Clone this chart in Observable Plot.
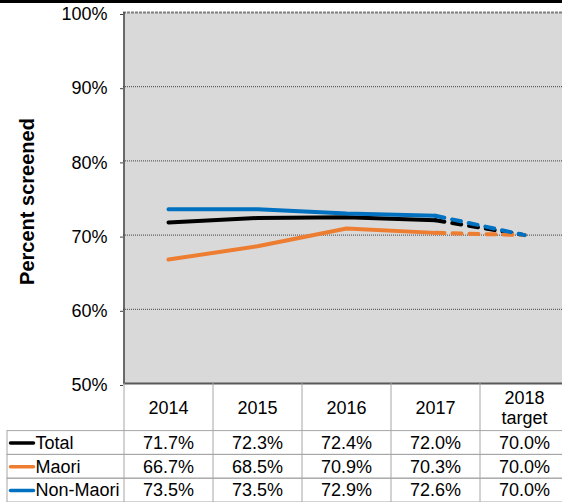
<!DOCTYPE html>
<html><head><meta charset="utf-8">
<script src="https://cdn.jsdelivr.net/npm/d3@7"></script>
<script src="https://cdn.jsdelivr.net/npm/@observablehq/plot@0.6"></script>
<style>
html,body{margin:0;padding:0;background:#fff;overflow:hidden;width:562px;height:502px;}
#wrap{position:relative;width:562px;height:502px;overflow:hidden;}
#topline{position:absolute;left:0;top:0;width:562px;height:3px;background:#000;z-index:2}
#chart{position:absolute;left:0;top:0;width:568px}
#table{position:absolute;left:0;top:383px;width:568px}
</style></head><body>
<div id="wrap"><div id="topline"></div><div id="chart"></div><div id="table"></div></div>
<script>
const categories = ["2014", "2015", "2016", "2017", "2018\ntarget"];
const seriesNames = ["Total", "Maori", "Non-Maori"];
const totalValues = [71.7, 72.3, 72.4, 72.0, 70.0];
const maoriValues = [66.7, 68.5, 70.9, 70.3, 70.0];
const nonMaoriValues = [73.5, 73.5, 72.9, 72.6, 70.0];
const seriesColors = ["#000000", "#ed7d31", "#0070c0"];
const yTicks = [50, 60, 70, 80, 90, 100];
const gridTicks = [60, 70, 80, 90];
const yLabel = "Percent screened";

const seriesValues = [totalValues, maoriValues, nonMaoriValues];
const records = seriesNames.flatMap((s, si) =>
  seriesValues[si].map((v, ci) => ({series: s, si, ci, cat: categories[ci], value: v})));
const actual = records.filter(d => d.ci <= 3);
const projected = records.filter(d => d.ci >= 3);

const FONT = '"Liberation Sans", Arial, Helvetica, sans-serif';
const W = 568;
const LEFT = 123;
const step = (W - LEFT) / categories.length;
const xScale = {type: "point", domain: categories, range: [LEFT, W], padding: 0.5, axis: null};
const colorScale = {domain: seriesNames, range: seriesColors};
const baseStyle = {fontFamily: FONT, fontSize: "18px", color: "#000", background: "transparent", maxWidth: "none", overflow: "visible"};

const chart = Plot.plot({
  width: W, height: 386, marginTop: 12, marginRight: 0, marginBottom: 3, marginLeft: LEFT,
  style: baseStyle,
  x: xScale,
  y: {domain: [50, 100], range: [383, 12], axis: null},
  color: colorScale,
  marks: [
    Plot.frame({fill: "#d9d9d9", stroke: "none"}),
    Plot.ruleY(gridTicks, {stroke: "#404040", strokeWidth: 1, strokeDasharray: "1,1"}),
    Plot.ruleY([100], {stroke: "#808080", strokeWidth: 2, strokeDasharray: "3,1"}),
    Plot.ruleX([categories[0]], {dx: -step / 2, stroke: "#404040", strokeWidth: 1.5}),
    Plot.ruleY([50], {stroke: "#595959", strokeWidth: 2}),
    Plot.axisY({ticks: yTicks, tickSize: 3, tickPadding: 13, tickFormat: d => d + "%", label: null, stroke: "#404040", fontSize: 18, dy: 2}),
    Plot.text([yLabel], {frameAnchor: "left", textAnchor: "middle", dx: -96, dy: 3.5, rotate: -90, fontSize: 20, fontWeight: "bold", text: d => d}),
    Plot.line(actual, {x: "cat", y: "value", z: "series", stroke: "series", strokeWidth: 4, strokeLinecap: "round", strokeLinejoin: "round"}),
    Plot.line(projected, {x: "cat", y: "value", z: "series", stroke: "series", strokeWidth: 4, strokeLinecap: "round", strokeLinejoin: "round", strokeDasharray: "9,8"})
  ]
});
document.getElementById("chart").append(chart);

const swatch = {draw(ctx) { ctx.moveTo(-11.5, 0); ctx.lineTo(11.5, 0); }};
const table = Plot.plot({
  width: W, height: 119, marginTop: 0, marginBottom: 0, marginLeft: 7, marginRight: 0,
  style: baseStyle,
  x: xScale,
  y: {domain: [0, 5], range: [0, 119], axis: null},
  color: colorScale,
  marks: [
    Plot.rect(seriesNames, {y1: (d, i) => 2 + i, y2: (d, i) => 3 + i, fill: "none", stroke: "#a6a6a6"}),
    Plot.ruleX(categories, {x: d => d, dx: -step / 2, y1: 0, y2: 5, stroke: "#a6a6a6"}),
    Plot.text(categories, {x: d => d, y: 1, text: d => d, lineHeight: 1.15, fontSize: 18}),
    Plot.text(records, {x: "cat", y: d => 2.5 + d.si, text: d => d.value.toFixed(1) + "%", fontSize: 18}),
    Plot.dot(seriesNames, {frameAnchor: "left", dx: 14.5, y: (d, i) => 2.5 + i, symbol: swatch, stroke: d => d, strokeWidth: 3.5, fill: "none", strokeLinecap: "round"}),
    Plot.text(seriesNames, {frameAnchor: "left", dx: 28, y: (d, i) => 2.5 + i, text: d => d, textAnchor: "start", fontSize: 18})
  ]
});
document.getElementById("table").append(table);
</script></body></html>
